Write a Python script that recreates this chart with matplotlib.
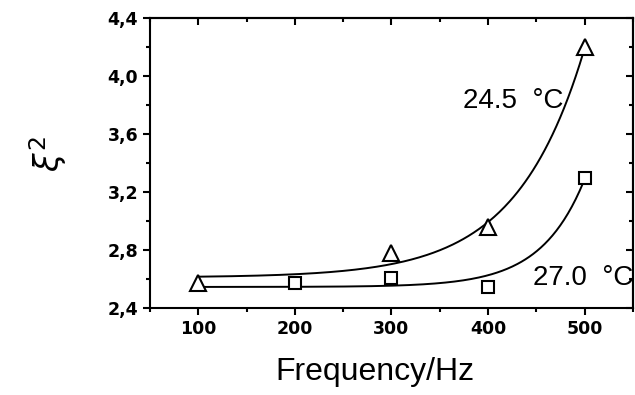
import matplotlib.pyplot as plt
import numpy as np
from matplotlib.ticker import MultipleLocator

plt.rcParams['font.family'] = ['Liberation Sans', 'DejaVu Sans']

# data
freq_245 = [100, 300, 400, 500]
xi2_245 = [2.57, 2.78, 2.96, 4.20]
freq_270 = [200, 300, 400, 500]
xi2_270 = [2.57, 2.605, 2.545, 3.30]

x_ticks = [100, 200, 300, 400, 500]
y_ticks = [2.4, 2.8, 3.2, 3.6, 4.0, 4.4]


def exp_fit(x, y):
    # y = y0 + A*exp(x/t), grid search on t, linear least squares for y0, A
    x = np.asarray(x, float)
    y = np.asarray(y, float)
    best = None
    for t in np.linspace(45, 400, 800):
        M = np.column_stack([np.ones_like(x), np.exp(x / t)])
        coef, *_ = np.linalg.lstsq(M, y, rcond=None)
        err = np.sum((M @ coef - y) ** 2)
        if best is None or err < best[0]:
            best = (err, t, coef)
    _, t, coef = best
    return lambda xx: coef[0] + coef[1] * np.exp(xx / t)


fig = plt.figure(figsize=(6.35, 3.95), dpi=100)
ax = fig.add_axes([0.236, 0.22, 0.761, 0.734])

xs = np.linspace(100, 500, 300)
f1 = exp_fit(freq_245, xi2_245)
f2 = exp_fit(freq_270, xi2_270)
ax.plot(xs, f1(xs), color='black', lw=1.4)
ax.plot(xs, f2(xs), color='black', lw=1.4)

ax.plot(freq_245, xi2_245, ls='none', marker='^', ms=11, mfc='white',
        mec='black', mew=1.5)
ax.plot(freq_270, xi2_270, ls='none', marker='s', ms=9, mfc='white',
        mec='black', mew=1.5)

ax.text(374, 3.83, '24.5  °C', fontsize=20, va='center', ha='left')
ax.text(446, 2.607, '27.0  °C', fontsize=20, va='center', ha='left',
        clip_on=False)

ax.set_xlim(50, 550)
ax.set_ylim(2.4, 4.4)
ax.set_xticks(x_ticks)
ax.set_yticks(y_ticks)
ax.set_yticklabels([f'{v:.1f}'.replace('.', ',') for v in y_ticks])
ax.xaxis.set_minor_locator(MultipleLocator(50))
ax.yaxis.set_minor_locator(MultipleLocator(0.2))

ax.tick_params(which='both', direction='out', width=1.5, labelsize=12.5,
               top=False, right=False)
ax.tick_params(which='major', length=5)
ax.tick_params(which='minor', length=3)
for lab in ax.get_xticklabels() + ax.get_yticklabels():
    lab.set_fontweight('bold')
    lab.set_family('DejaVu Sans')

# mirrored inward ticks on top and right
sec_x = ax.secondary_xaxis('top')
sec_x.set_xticks(x_ticks)
sec_x.xaxis.set_minor_locator(MultipleLocator(50))
sec_x.tick_params(which='both', direction='in', width=1.5, labeltop=False)
sec_x.tick_params(which='major', length=5)
sec_x.tick_params(which='minor', length=3)
sec_y = ax.secondary_yaxis('right')
sec_y.set_yticks(y_ticks)
sec_y.yaxis.set_minor_locator(MultipleLocator(0.2))
sec_y.tick_params(which='both', direction='in', width=1.5, labelright=False)
sec_y.tick_params(which='major', length=5)
sec_y.tick_params(which='minor', length=3)

for s in ax.spines.values():
    s.set_linewidth(1.5)
sec_x.spines['top'].set_linewidth(1.5)
sec_y.spines['right'].set_linewidth(1.5)

fig.text(375 / 635, 1 - 380 / 395, 'Frequency/Hz', fontsize=23,
         ha='center', va='baseline')
fig.text(0.075, 0.61, r'$\xi^2$', fontsize=24, rotation=90,
         ha='center', va='center')

fig.savefig('out.png', dpi=100)
